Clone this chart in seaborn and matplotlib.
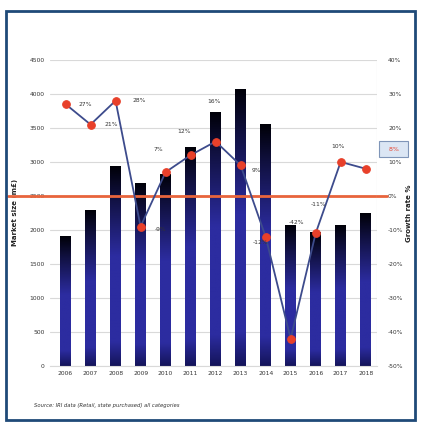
import numpy as np
import pandas as pd
import seaborn as sns
import matplotlib.pyplot as plt
from matplotlib.colors import LinearSegmentedColormap
from matplotlib.patches import Rectangle

# Data
years = ["2006", "2007", "2008", "2009", "2010", "2011", "2012",
         "2013", "2014", "2015", "2016", "2017", "2018"]
market = [1900, 2290, 2930, 2680, 2810, 3220, 3730,
          4060, 3550, 2070, 1970, 2070, 2250]
growth = [27, 21, 28, -9, 7, 12, 16, 9, -12, -42, -11, 10, 8]

df = pd.DataFrame({"year": years, "market": market, "growth": growth})
df["pos"] = np.arange(len(df))

sns.set_style("white")
plt.rcParams["font.family"] = ["DejaVu Sans"]

fig = plt.figure(figsize=(4.24, 4.25), dpi=100)
ax = fig.add_axes([0.118, 0.139, 0.771, 0.72])

sns.barplot(data=df, x="year", y="market", ax=ax, width=0.42,
            color="#2b2b9c", saturation=1, zorder=2)

# gradient fill on the bars (black top, blue body)
cmap = LinearSegmentedColormap.from_list(
    "bar", [(0, "#14145a"), (0.12, "#2c2ca0"), (0.55, "#2c2ca0"), (0.85, "#10103e"), (1, "#000008")])
grad = np.linspace(0, 1, 256).reshape(-1, 1)
for p in ax.patches:
    x0, y0 = p.get_x(), p.get_y()
    w, h = p.get_width(), p.get_height()
    ax.imshow(grad, cmap=cmap, origin="lower", aspect="auto",
              extent=(x0, x0 + w, y0, y0 + h), zorder=2)
    p.set_visible(False)

ax.set_xlim(-0.62, 12.45)
ax.set_ylim(0, 4500)
ax.set_yticks(np.arange(0, 4501, 500))
ax.yaxis.grid(True, color="#d9d9d9", lw=0.8, zorder=0)
ax.set_axisbelow(True)
ax.tick_params(axis="both", labelsize=4.3, length=0, pad=4, colors="#333333")
ax.set_xlabel("")
ax.set_ylabel("Market size (m£)", fontsize=5, fontweight="bold", color="#222222", labelpad=8)
for s in ["top", "right", "left"]:
    ax.spines[s].set_visible(False)
ax.spines["bottom"].set_color("#d9d9d9")

ax2 = ax.twinx()
ax2.axhline(0, xmin=-0.13, xmax=1.03, color="#e8643c", lw=2, clip_on=False, zorder=1)
sns.lineplot(data=df, x="pos", y="growth", ax=ax2, color="#3d4b8c", lw=1.3,
             marker="o", markersize=5.5, markerfacecolor="#e8402a",
             markeredgecolor="#e8402a", zorder=5)
ax2.set_ylim(-50, 40)
ax2.set_yticks(np.arange(-50, 41, 10))
ax2.set_yticklabels([f"{v}%" for v in range(-50, 41, 10)])
ax2.set_xlim(-0.62, 12.45)
ax2.tick_params(axis="y", labelsize=4.3, length=0, pad=8, colors="#333333")
ax2.set_xlabel("")
ax2.set_ylabel("Growth rate %", fontsize=5, fontweight="bold", color="#222222", labelpad=2)
for s in ["top", "right", "left", "bottom"]:
    ax2.spines[s].set_visible(False)
ax2.axvline(12.45, color="#d9d9d9", lw=0.8)

# data labels (offsets in points)
offsets = [(14, 0), (15, 0), (17, 0), (14, -2), (-5, 16), (-5, 17), (-1, 29),
           (11, -4), (-4, -4), (4, 84), (2, 21), (-2, 11), (0, 0)]
for i, (g, off) in enumerate(zip(growth, offsets)):
    if i == len(growth) - 1:
        continue
    ax2.annotate(f"{g}%", (i, g), xytext=off, textcoords="offset points",
                 ha="center", va="center", fontsize=4.3, color="#333333", zorder=6)
ax2.annotate(f"  {growth[-1]}%  ", (12, growth[-1]), xytext=(20, 14), textcoords="offset points",
             ha="center", va="center", fontsize=4.5, color="#e8402a", zorder=6,
             annotation_clip=False,
             bbox=dict(boxstyle="square,pad=0.9", fc="#dbe6f4", ec="#7f95b8", lw=0.8))

# source note and outer frame
fig.text(0.08, 0.042, "Source: IRI data (Retail, state purchased) all categories",
         fontsize=3.8, style="italic", color="#333333")
fig.add_artist(Rectangle((0.013, 0.012), 0.965, 0.962, transform=fig.transFigure,
                         fill=False, ec="#1f4a78", lw=2))

fig.savefig("out.png", dpi=100)
